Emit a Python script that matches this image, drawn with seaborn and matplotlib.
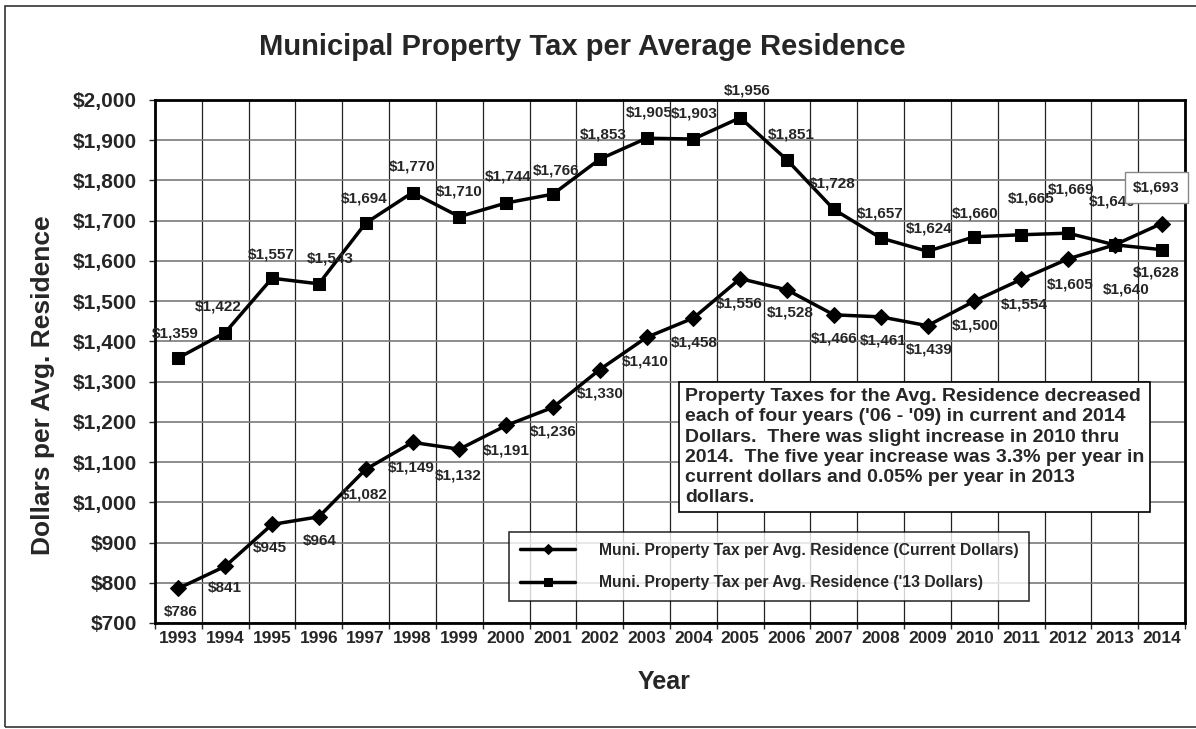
import pandas as pd
import seaborn as sns
import matplotlib.pyplot as plt
from matplotlib.patches import Rectangle
from matplotlib.ticker import FuncFormatter, MultipleLocator

# values
years = list(range(1993, 2015))
current_dollars = [786, 841, 945, 964, 1082, 1149, 1132, 1191, 1236, 1330, 1410, 1458,
                   1556, 1528, 1466, 1461, 1439, 1500, 1554, 1605, 1640, 1693]
dollars_13 = [1359, 1422, 1557, 1543, 1694, 1770, 1710, 1744, 1766, 1853, 1905, 1903,
              1956, 1851, 1728, 1657, 1624, 1660, 1665, 1669, 1640, 1628]

label_current = "Muni. Property Tax per Avg. Residence (Current Dollars)"
label_13 = "Muni. Property Tax per Avg. Residence ('13 Dollars)"
note = ("Property Taxes for the Avg. Residence decreased\n"
        "each of four years ('06 - '09) in current and 2014\n"
        "Dollars.  There was slight increase in 2010 thru\n"
        "2014.  The five year increase was 3.3% per year in\n"
        "current dollars and 0.05% per year in 2013\n"
        "dollars.")

# label offsets in pixels (placement only)
off_13 = [(-3, 24), (-7, 26), (-1, 24), (11, 25), (-1, 25), (0, 26), (0, 25), (2, 26),
          (3, 24), (3, 25), (3, 26), (1, 26), (7, 27), (4, 25), (-2, 26), (-1, 24),
          (2, 23), (1, 23), (10, 36), (3, 44), (-3, 43), (-5, -23)]
off_cur = [(2, -24), (0, -22), (-2, -24), (1, -24), (-1, -25), (-1, -25), (-1, -26),
           (0, -25), (0, -24), (0, -24), (-1, -24), (1, -24), (-1, -25), (3, -23),
           (0, -24), (3, -24), (2, -24), (1, -24), (3, -25), (2, -26), (11, -45), (-5, 36)]

df = pd.DataFrame({"Year": years, "current": current_dollars, "d13": dollars_13})

sns.set_style("white")
plt.rcParams["font.family"] = ["Liberation Sans", "DejaVu Sans"]
plt.rcParams["font.weight"] = "bold"

fig = plt.figure(figsize=(11.96, 7.29), dpi=100)
ax = fig.add_axes([155 / 1196, 1 - 623 / 729, 1030 / 1196, 523 / 729])

sns.lineplot(data=df, x="Year", y="current", ax=ax, color="black", lw=2.5,
             marker="D", markersize=8, markeredgecolor="black", label=label_current)
sns.lineplot(data=df, x="Year", y="d13", ax=ax, color="black", lw=2.5,
             marker="s", markersize=9, markeredgecolor="black", label=label_13)

for i, (yr, v) in enumerate(zip(years, dollars_13)):
    ax.annotate(f"${v:,}", (yr, v), xytext=off_13[i], textcoords="offset pixels",
                ha="center", va="center", fontsize=11, fontweight="bold",
                annotation_clip=False)
for i, (yr, v) in enumerate(zip(years, current_dollars)):
    box = None
    if yr == 2014:
        box = dict(boxstyle="square,pad=0.55", fc="white", ec="#888888", lw=1)
    ax.annotate(f"${v:,}", (yr, v), xytext=off_cur[i], textcoords="offset pixels",
                ha="center", va="center", fontsize=11, fontweight="bold",
                annotation_clip=False, bbox=box)

ax.set_xlim(1992.5, 2014.5)
ax.set_ylim(700, 2000)
ax.yaxis.set_major_locator(MultipleLocator(100))
ax.yaxis.set_major_formatter(FuncFormatter(lambda x, p: f"${x:,.0f}"))
ax.set_xticks(years)
ax.set_xticks([y - 0.5 for y in years] + [2014.5], minor=True)
ax.tick_params(axis="x", which="major", length=0, pad=6, labelsize=12.5)
ax.tick_params(axis="x", which="minor", length=4, width=1, direction="out", bottom=True)
ax.tick_params(axis="y", length=4, width=1, direction="out", pad=9, labelsize=15, left=True)
for t in ax.get_xticklabels() + ax.get_yticklabels():
    t.set_fontweight("bold")

ax.grid(axis="y", which="major", color="#7a7a7a", lw=1.2)
ax.grid(axis="x", which="minor", color="#222222", lw=0.9)
ax.set_axisbelow(True)
for s in ax.spines.values():
    s.set_color("black")
    s.set_linewidth(2)
ax.set_xlabel("")
ax.set_ylabel("")

leg = ax.legend(loc="upper left", bbox_to_anchor=(0.344, 0.174), frameon=True,
                fancybox=False, edgecolor="black", fontsize=11.3, handlelength=3.5,
                borderpad=0.7, labelspacing=1.1, handletextpad=1.5, borderaxespad=0,
                markerscale=0.7)
leg.get_frame().set_linewidth(1.2)
for t in leg.get_texts():
    t.set_fontweight("bold")

ax.text(0.5146, 0.449, note, transform=ax.transAxes, ha="left", va="top",
        fontsize=14, fontweight="bold", linespacing=1.25,
        bbox=dict(boxstyle="square,pad=0.3", fc="white", ec="black", lw=1.2))

fig.text(582 / 1196, 1 - 47 / 729, "Municipal Property Tax per Average Residence",
         ha="center", va="center", fontsize=21, fontweight="bold")
fig.text(43 / 1196, 1 - 385 / 729, "Dollars per Avg. Residence", rotation=90,
         ha="center", va="center", fontsize=19, fontweight="bold")
fig.text(664 / 1196, 1 - 682 / 729, "Year", ha="center", va="center",
         fontsize=18, fontweight="bold")

fig.patches.append(Rectangle((5 / 1196, 2 / 729), 1.1, 1 - 8 / 729,
                             transform=fig.transFigure, fill=False, ec="#333333",
                             lw=1.2, clip_on=False))

fig.savefig("out.png", dpi=100)
